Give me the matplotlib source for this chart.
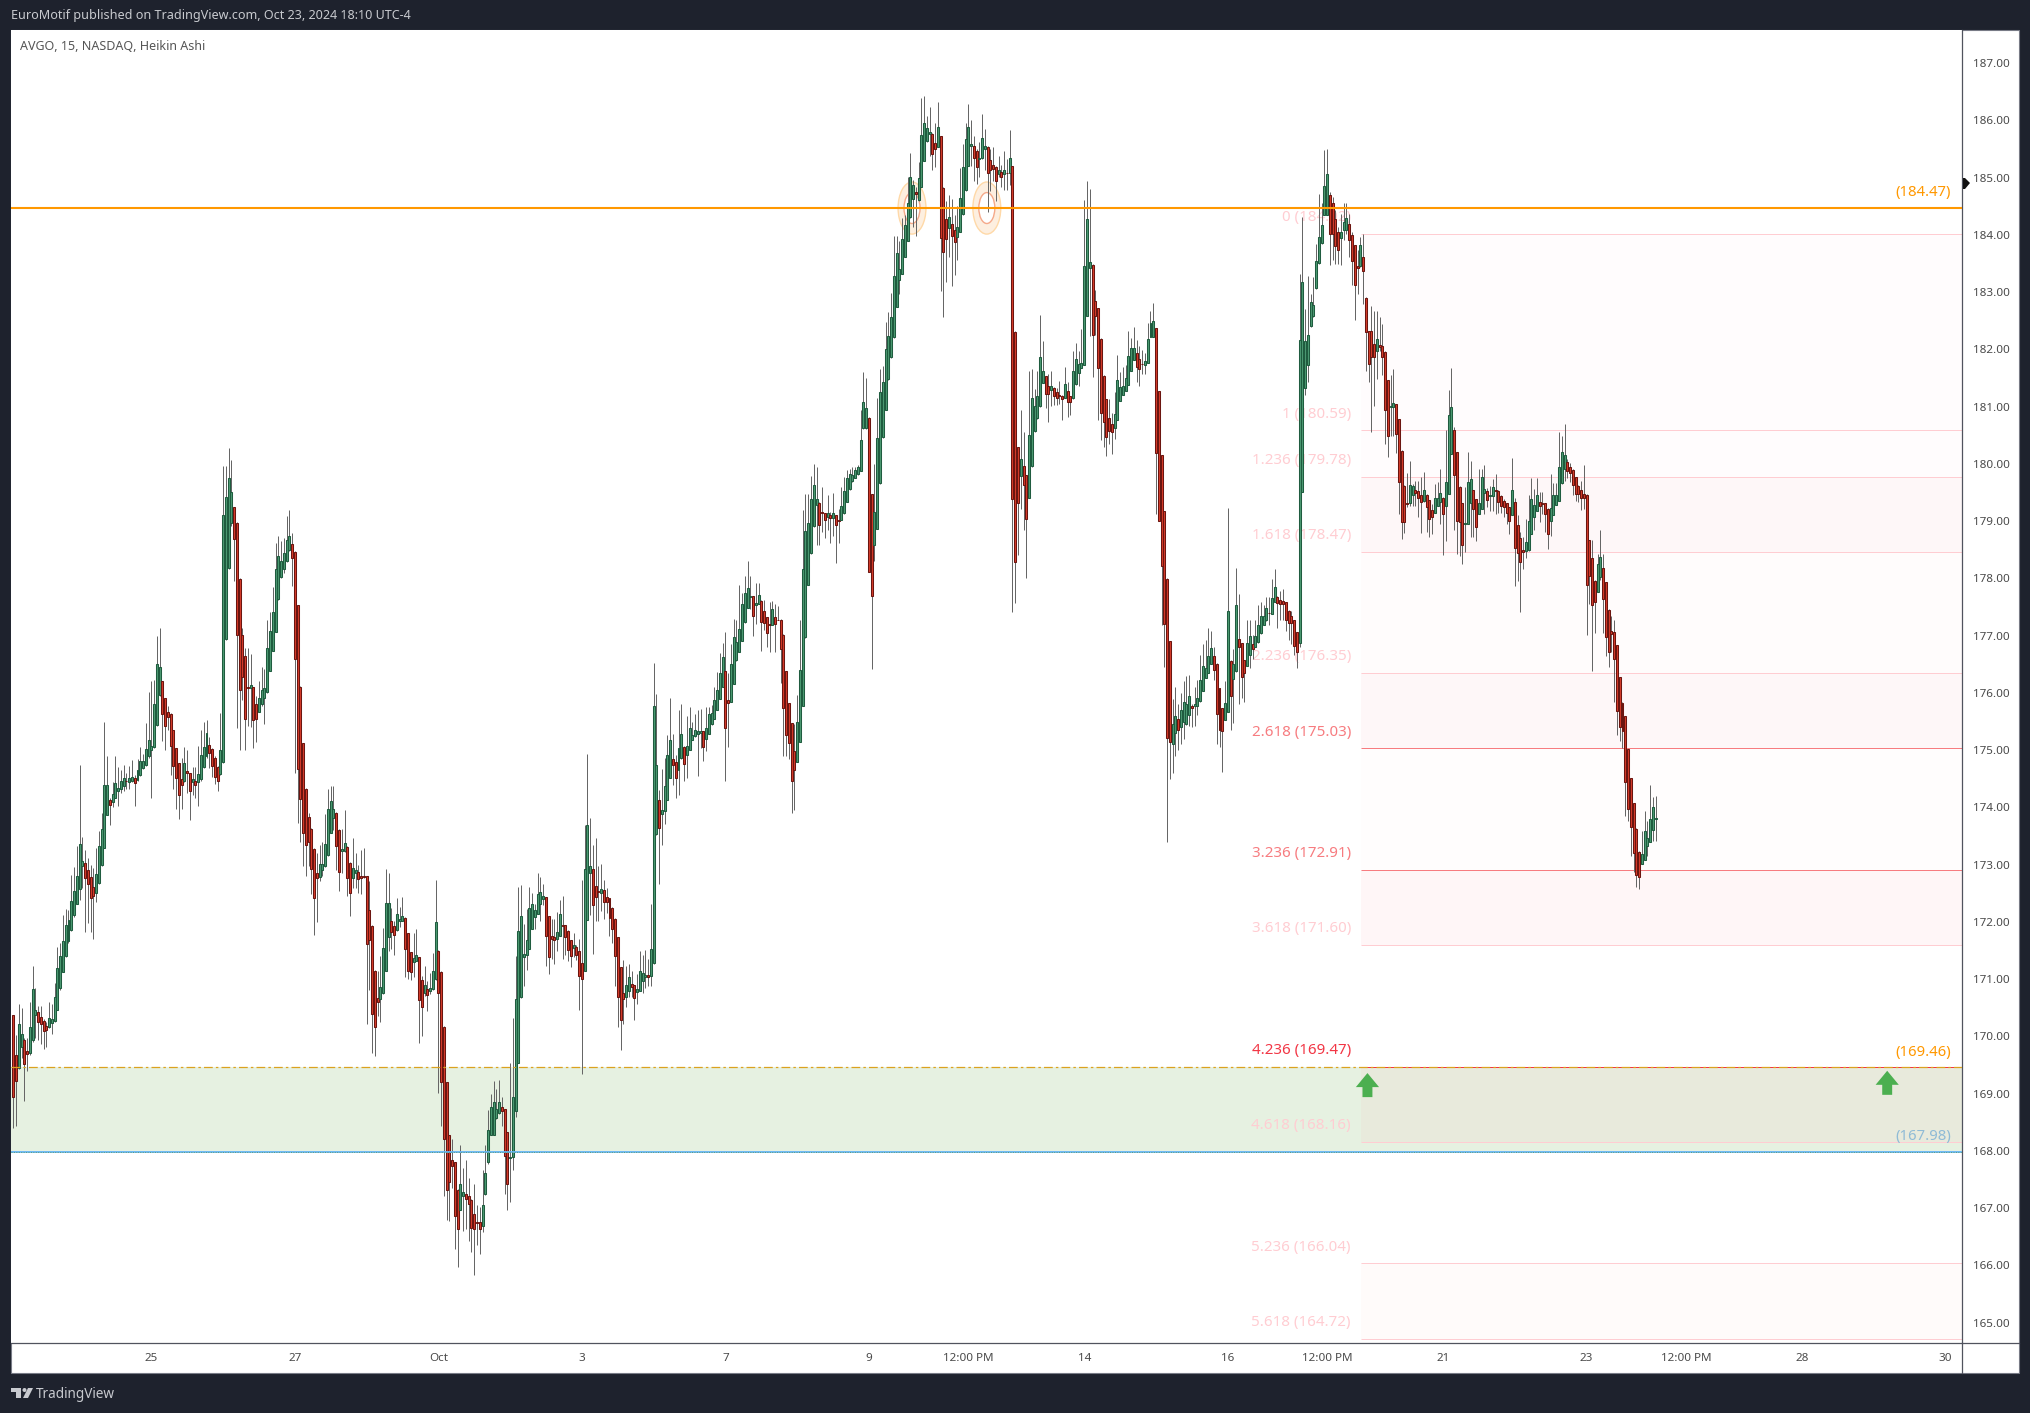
import matplotlib
matplotlib.use('Agg')
import matplotlib.pyplot as plt
from matplotlib.lines import Line2D
from matplotlib.patches import Ellipse, Polygon, Rectangle

W, H = 2030, 1413
FONT = 'Noto Sans'

# Heikin Ashi bars, 15 min
direction = (
    "RRGGRRGGGR" "RRRGGGGGGG" "GGGGGGRRRR" "GGGGGRGGGG" "GRGGRGGGGG" "GGGGRRRRRR"
    "RRGRRGRGGG" "GRRRRGGGGG" "RRRRRRGRRG" "GGGGGGGGGG" "GRRRRRRRRR" "RGGGGGGRRG"
    "GRRGGRRRRR" "RRRGGGGRRG" "GGRRRGGRRG" "RGGGRRRRRR" "RRGGRRRRRR" "GGGGGGGRRR"
    "GGGGGGGGGG" "GGGRRRRGGR" "RRRGRRRGGG" "RRRGRRRRRR" "RRGGRRGGGG" "RGGGRGGGGR"
    "RGGRGGGGGG" "RGGGGGGGRR" "GGGGGGGGRG" "GRRRRGRRRR" "RRRRGGGGGG" "GGRRRGRGRR"
    "GGGGGGGGGG" "RRGGGGGGGG" "GGGGGGGRGG" "GGGRRGRRRG" "RRGGGGGGRR" "GGGRRRRGRG"
    "RGRRRGRRGG" "GGGGRRGRRR" "RGRRGGGGGG" "GRRRRRRRRG" "GGGGGGGRRR" "GGGGRRRRRR"
    "GGRGGGGRGG" "GGGGGRRRRG" "GRGGRRRGGR" "GGGGGRGGRR" "RRRRRRGGGG" "GGGGGGGRRR"
    "RGGGRRRRGR" "RRRRGRRRRG" "GRRRRRGGRR" "RGRRRGGGRG" "GGRRRRGGGR" "RGGGRGGRRR"
    "RRRGRRRRGG" "GGGRRRRGGG" "GGGRRRRRRR" "RRRRGGRRRR" "RRRRRRRRRR" "GGGGGG"
)

body_top = [
    170.38, 169.68, 170.22, 170.05, 169.93, 169.74, 170.16, 170.83, 170.47, 170.42,
    170.34, 170.27, 170.18, 170.32, 170.30, 170.69, 171.19, 171.40, 171.67, 171.94,
    172.03, 172.36, 172.54, 172.81, 173.36, 173.07, 173.03, 172.90, 172.78, 172.61,
    172.84, 173.33, 173.62, 174.40, 174.40, 174.13, 174.23, 174.43, 174.34, 174.46,
    174.51, 174.47, 174.51, 174.54, 174.51, 174.65, 174.81, 174.81, 175.02, 175.17,
    175.07, 175.81, 176.50, 176.45, 176.21, 175.91, 175.67, 175.63, 175.35, 175.04,
    174.78, 174.50, 174.78, 174.63, 174.60, 174.50, 174.47, 174.58, 174.91, 175.05,
    175.30, 175.09, 175.02, 174.86, 174.70, 175.00, 179.10, 179.42, 179.75, 179.51,
    179.24, 178.97, 177.99, 177.01, 176.64, 176.11, 176.13, 176.11, 175.81, 175.92,
    176.06, 176.08, 176.79, 177.09, 177.41, 178.17, 178.40, 178.31, 178.44, 178.68,
    178.74, 178.61, 178.47, 177.53, 176.11, 175.12, 174.33, 173.84, 173.63, 173.28,
    172.85, 173.01, 173.02, 173.37, 173.97, 174.11, 173.98, 173.91, 173.61, 173.27,
    173.38, 173.31, 173.03, 172.94, 172.90, 172.88, 172.81, 172.80, 172.80, 172.20,
    171.93, 171.15, 170.67, 170.87, 171.54, 172.33, 172.33, 172.02, 171.93, 172.14,
    172.06, 172.11, 172.07, 171.80, 171.47, 171.37, 171.42, 171.38, 170.99, 170.90,
    170.83, 170.85, 171.15, 172.00, 171.50, 171.13, 170.17, 169.20, 168.27, 167.84,
    167.80, 167.32, 167.43, 167.28, 167.24, 167.21, 167.15, 166.89, 166.76, 166.75,
    167.05, 167.61, 168.36, 168.77, 168.85, 168.74, 168.85, 168.76, 168.73, 168.33,
    167.90, 168.94, 170.66, 171.85, 172.11, 171.44, 171.68, 172.24, 172.31, 172.21,
    172.49, 172.52, 172.45, 172.43, 172.10, 171.75, 171.74, 171.82, 172.13, 171.94,
    171.94, 171.85, 171.68, 171.59, 171.57, 171.50, 171.28, 172.93, 173.69, 172.97,
    172.92, 172.62, 172.54, 172.57, 172.55, 172.44, 172.41, 172.25, 172.06, 171.73,
    171.21, 170.75, 170.89, 171.03, 170.91, 170.89, 170.82, 171.14, 171.10, 171.08,
    171.07, 171.52, 175.78, 174.75, 174.13, 173.96, 174.37, 174.91, 175.17, 174.85,
    174.80, 175.03, 175.29, 175.06, 175.08, 175.38, 175.27, 175.36, 175.33, 175.34,
    175.33, 175.38, 175.64, 175.65, 175.87, 176.06, 176.34, 176.63, 176.38, 175.87,
    176.50, 176.97, 176.89, 177.12, 177.55, 177.75, 177.84, 177.70, 177.69, 177.57,
    177.71, 177.61, 177.43, 177.32, 177.20, 177.47, 177.32, 177.28, 177.28, 177.02,
    176.38, 175.82, 175.47, 174.98, 175.50, 176.40, 178.17, 178.83, 178.97, 179.39,
    179.64, 179.38, 179.32, 179.16, 179.14, 179.14, 179.10, 179.14, 179.10, 179.02,
    179.27, 179.53, 179.76, 179.83, 179.81, 179.89, 179.95, 180.42, 181.09, 180.98,
    180.81, 179.47, 179.16, 180.45, 181.25, 181.44, 182.00, 182.23, 182.56, 183.29,
    183.68, 183.40, 183.93, 184.17, 184.55, 185.02, 184.87, 184.75, 184.99, 185.75,
    185.96, 185.87, 185.79, 185.77, 185.60, 185.88, 185.72, 184.82, 184.27, 184.31,
    184.20, 184.08, 184.14, 184.65, 185.19, 185.67, 185.89, 185.58, 185.55, 185.46,
    185.34, 185.70, 185.56, 185.54, 185.31, 185.23, 185.19, 185.14, 185.10, 185.13,
    185.09, 185.34, 185.20, 182.31, 180.29, 180.09, 179.96, 179.81, 180.50, 181.16,
    181.02, 181.19, 181.86, 181.63, 181.53, 181.37, 181.36, 181.33, 181.25, 181.21,
    181.19, 181.39, 181.28, 181.18, 181.62, 181.83, 181.75, 181.77, 183.45, 184.28,
    183.52, 183.48, 182.85, 182.72, 182.19, 181.54, 181.13, 180.80, 180.69, 180.88,
    181.46, 181.34, 181.36, 181.50, 181.88, 182.02, 182.02, 181.93, 181.83, 181.75,
    181.79, 182.19, 182.47, 182.50, 182.37, 181.27, 180.15, 179.18, 177.99, 176.90,
    175.45, 175.60, 175.55, 175.70, 175.85, 175.81, 175.94, 175.78, 175.80, 175.92,
    176.22, 176.47, 176.44, 176.65, 176.78, 176.64, 176.51, 176.08, 175.73, 175.83,
    177.44, 176.56, 176.51, 177.53, 176.94, 176.88, 176.57, 176.88, 177.00, 176.85,
    176.99, 177.18, 177.34, 177.35, 177.48, 177.40, 177.65, 177.85, 177.68, 177.63,
    177.60, 177.58, 177.44, 177.34, 177.28, 177.06, 182.17, 183.17, 182.14, 182.26,
    182.83, 182.78, 183.54, 183.97, 184.18, 184.85, 185.06, 184.70, 184.55, 184.28,
    184.05, 184.05, 184.23, 184.30, 184.20, 184.00, 183.82, 183.46, 183.82, 183.61,
    182.90, 182.33, 182.33, 182.10, 182.19, 182.08, 182.06, 181.96, 181.46, 181.02,
    181.07, 181.04, 180.78, 180.23, 179.62, 179.32, 179.63, 179.61, 179.54, 179.53,
    179.46, 179.54, 179.46, 179.37, 179.20, 179.40, 179.41, 179.50, 179.41, 179.69,
    180.86, 181.00, 180.60, 180.20, 179.60, 179.31, 178.96, 179.69, 179.74, 179.54,
    179.38, 179.31, 179.78, 179.56, 179.53, 179.45, 179.60, 179.54, 179.53, 179.44,
    179.36, 179.31, 179.24, 179.55, 179.34, 178.94, 178.70, 178.49, 178.64, 179.01,
    179.38, 179.29, 179.46, 179.33, 179.31, 179.31, 179.22, 179.23, 179.45, 179.45,
    179.94, 180.20, 180.15, 180.04, 179.95, 179.90, 179.78, 179.62, 179.55, 179.48,
    179.46, 178.67, 178.36, 177.96, 178.26, 178.38, 178.19, 177.93, 177.45, 177.09,
    177.06, 176.83, 176.27, 175.83, 175.59, 175.02, 174.51, 174.07, 173.63, 173.23,
    173.18, 173.58, 173.46, 173.79, 174.00, 173.81,
]

body_bottom = [
    168.95, 169.22, 169.44, 169.82, 169.52, 169.69, 169.71, 169.93, 170.38, 170.25,
    170.22, 170.09, 170.12, 170.16, 170.24, 170.27, 170.47, 170.84, 171.13, 171.40,
    171.67, 171.86, 172.12, 172.32, 172.58, 172.97, 172.77, 172.66, 172.42, 172.45,
    172.51, 172.68, 172.99, 173.30, 173.87, 174.04, 174.09, 174.16, 174.29, 174.32,
    174.38, 174.46, 174.45, 174.47, 174.42, 174.48, 174.56, 174.69, 174.74, 174.89,
    175.01, 175.05, 175.44, 175.96, 175.63, 175.42, 175.58, 175.08, 174.72, 174.51,
    174.21, 174.40, 174.46, 174.61, 174.29, 174.44, 174.40, 174.45, 174.49, 174.70,
    174.89, 174.95, 174.72, 174.53, 174.46, 174.58, 174.79, 176.94, 178.18, 178.96,
    178.69, 177.01, 176.05, 176.28, 175.55, 176.09, 176.08, 175.53, 175.55, 175.67,
    175.80, 175.92, 176.01, 176.39, 176.74, 177.07, 177.64, 178.02, 178.17, 178.30,
    178.49, 178.35, 176.60, 174.68, 174.14, 173.56, 173.35, 173.40, 172.92, 172.41,
    172.76, 172.79, 172.90, 172.97, 173.17, 173.56, 173.82, 173.33, 172.87, 173.24,
    173.24, 172.76, 172.50, 172.76, 172.85, 172.75, 172.77, 172.79, 171.61, 171.68,
    170.39, 170.16, 170.61, 170.65, 170.76, 171.15, 171.73, 171.83, 171.78, 171.86,
    172.01, 172.01, 171.52, 171.15, 171.13, 171.30, 171.32, 170.63, 170.52, 170.75,
    170.73, 170.79, 170.82, 171.00, 170.75, 169.21, 168.21, 167.32, 167.45, 167.73,
    166.86, 166.63, 166.97, 167.21, 167.16, 167.08, 166.65, 166.63, 166.74, 166.63,
    166.68, 167.24, 167.80, 168.28, 168.28, 168.57, 168.66, 168.69, 167.92, 167.43,
    167.88, 167.89, 168.70, 169.54, 170.69, 171.39, 171.42, 171.53, 171.88, 172.09,
    172.14, 172.32, 172.40, 171.76, 171.39, 171.71, 171.69, 171.71, 171.76, 171.93,
    171.74, 171.51, 171.41, 171.54, 171.43, 171.06, 171.01, 171.15, 172.04, 172.86,
    172.30, 172.44, 172.52, 172.51, 172.35, 172.35, 172.07, 171.88, 171.41, 170.69,
    170.29, 170.66, 170.69, 170.80, 170.87, 170.68, 170.78, 170.80, 170.96, 171.03,
    171.03, 171.05, 171.28, 173.53, 173.64, 173.89, 173.93, 174.13, 174.52, 174.75,
    174.52, 174.66, 174.86, 174.76, 174.91, 175.00, 175.18, 175.24, 175.29, 175.30,
    175.05, 175.19, 175.29, 175.46, 175.55, 175.71, 175.89, 176.11, 175.38, 175.82,
    175.85, 176.16, 176.57, 176.72, 176.91, 177.24, 177.49, 177.67, 177.35, 177.53,
    177.55, 177.24, 177.22, 177.05, 177.19, 177.19, 177.21, 177.27, 176.76, 175.74,
    175.26, 175.13, 174.47, 174.65, 174.80, 175.15, 175.77, 176.97, 177.89, 178.44,
    178.91, 179.28, 178.93, 179.14, 179.02, 179.07, 179.06, 179.06, 178.93, 179.00,
    179.02, 179.14, 179.34, 179.56, 179.71, 179.76, 179.82, 179.88, 180.62, 180.62,
    178.12, 177.70, 178.59, 178.87, 179.66, 180.47, 180.95, 181.48, 181.86, 182.21,
    182.75, 183.22, 183.32, 183.62, 183.90, 184.31, 184.62, 184.71, 184.61, 184.84,
    185.30, 185.64, 185.76, 185.41, 185.50, 185.54, 183.95, 183.70, 183.93, 184.12,
    183.98, 183.88, 183.97, 184.06, 184.36, 184.78, 185.20, 185.56, 185.34, 185.19,
    185.33, 185.34, 185.51, 185.09, 185.14, 185.16, 184.94, 185.06, 185.02, 185.06,
    185.08, 185.08, 179.39, 178.28, 179.31, 179.79, 179.64, 179.03, 179.41, 179.96,
    180.57, 180.80, 181.01, 181.42, 181.23, 181.23, 181.30, 181.18, 181.16, 181.18,
    181.14, 181.16, 181.09, 181.09, 181.15, 181.39, 181.59, 181.68, 181.72, 182.59,
    183.43, 182.25, 182.58, 181.67, 180.89, 180.73, 180.47, 180.58, 180.55, 180.62,
    180.76, 181.10, 181.21, 181.28, 181.38, 181.63, 181.81, 181.70, 181.65, 181.74,
    181.73, 181.77, 182.22, 182.22, 180.19, 179.01, 178.21, 177.20, 175.22, 175.15,
    175.10, 175.30, 175.35, 175.40, 175.50, 175.45, 175.62, 175.74, 175.77, 175.78,
    175.86, 176.03, 176.26, 176.35, 176.51, 176.40, 175.63, 175.35, 175.33, 175.53,
    175.67, 175.94, 176.24, 176.38, 176.81, 176.27, 176.35, 176.47, 176.66, 176.77,
    176.80, 176.89, 177.04, 177.18, 177.27, 177.39, 177.38, 177.59, 177.57, 177.56,
    177.56, 177.28, 177.23, 177.23, 176.82, 176.71, 176.88, 179.51, 181.33, 181.73,
    182.41, 182.58, 183.08, 183.51, 183.86, 184.35, 184.35, 184.02, 184.02, 183.81,
    183.74, 183.95, 184.08, 184.08, 183.92, 183.54, 183.12, 183.43, 183.45, 183.37,
    182.31, 181.75, 181.86, 181.86, 181.98, 182.05, 181.87, 180.94, 180.49, 180.99,
    181.00, 180.52, 179.68, 178.99, 178.99, 179.30, 179.31, 179.46, 179.50, 179.40,
    179.34, 179.35, 179.25, 179.04, 179.07, 179.14, 179.26, 179.33, 179.13, 179.27,
    179.48, 180.18, 179.81, 179.00, 178.99, 178.59, 178.95, 178.95, 179.32, 179.21,
    178.90, 179.13, 179.21, 179.49, 179.37, 179.44, 179.44, 179.53, 179.34, 179.26,
    179.25, 179.14, 179.00, 179.10, 178.53, 178.45, 178.29, 178.47, 178.48, 178.49,
    178.78, 179.07, 179.18, 179.27, 179.30, 179.13, 178.78, 179.01, 179.11, 179.28,
    179.35, 179.66, 179.91, 179.88, 179.84, 179.63, 179.48, 179.47, 179.41, 179.41,
    177.88, 178.04, 177.54, 177.58, 177.77, 178.02, 177.64, 176.98, 176.72, 177.03,
    176.60, 175.69, 175.41, 175.34, 174.45, 173.98, 173.65, 173.20, 172.82, 172.79,
    173.02, 173.09, 173.32, 173.40, 173.60, 173.80,
]

highs = [
    170.38, 170.02, 170.57, 170.50, 169.98, 169.98, 170.61, 171.23, 170.85, 170.54,
    170.54, 170.30, 170.26, 170.60, 170.57, 170.93, 171.56, 171.64, 172.12, 172.23,
    172.20, 172.82, 172.96, 173.33, 174.74, 173.48, 173.26, 173.12, 172.99, 172.95,
    173.30, 173.58, 173.90, 175.50, 174.89, 174.17, 174.45, 174.89, 174.71, 174.65,
    174.74, 174.61, 174.73, 174.82, 174.57, 174.85, 175.06, 174.94, 175.47, 176.01,
    176.21, 176.23, 176.99, 177.13, 176.21, 175.91, 175.78, 175.65, 175.36, 175.04,
    174.78, 174.86, 175.06, 175.00, 174.61, 174.71, 174.71, 175.08, 175.36, 175.49,
    175.53, 175.23, 175.04, 174.89, 174.73, 175.65, 179.97, 179.97, 180.27, 180.07,
    179.25, 178.98, 178.00, 177.14, 176.78, 176.78, 176.68, 176.11, 175.94, 176.20,
    176.46, 176.42, 177.28, 177.42, 177.85, 178.62, 178.74, 178.66, 178.71, 179.09,
    179.19, 178.79, 178.48, 177.54, 176.12, 175.13, 174.34, 173.90, 173.64, 173.29,
    173.21, 173.34, 173.40, 173.88, 174.33, 174.37, 174.37, 173.92, 173.62, 173.63,
    173.96, 173.32, 173.04, 173.46, 173.21, 172.99, 173.25, 173.30, 172.80, 172.72,
    171.94, 171.16, 171.14, 171.40, 171.89, 172.92, 172.86, 172.24, 172.02, 172.42,
    172.26, 172.43, 172.08, 171.81, 171.48, 171.80, 171.87, 171.39, 171.05, 171.23,
    170.96, 171.11, 171.45, 172.74, 171.51, 171.14, 170.18, 169.20, 168.28, 168.21,
    167.81, 167.33, 168.10, 167.71, 167.84, 167.53, 167.16, 167.43, 167.05, 167.02,
    167.67, 168.10, 168.71, 168.99, 169.22, 169.08, 169.24, 168.94, 168.74, 168.33,
    169.53, 170.32, 171.40, 172.61, 172.64, 171.96, 172.22, 172.61, 172.50, 172.32,
    172.85, 172.78, 172.66, 172.43, 172.10, 172.05, 172.05, 172.17, 172.39, 172.46,
    171.94, 171.86, 171.68, 171.80, 171.60, 171.71, 172.74, 173.69, 174.94, 173.82,
    173.34, 173.46, 172.98, 173.02, 172.74, 172.59, 172.42, 172.26, 172.07, 171.74,
    171.21, 171.33, 171.23, 171.26, 171.14, 170.89, 171.09, 171.49, 171.43, 171.51,
    171.35, 172.32, 176.53, 175.99, 174.30, 174.67, 174.87, 175.27, 175.92, 175.29,
    174.92, 175.70, 175.80, 175.07, 175.59, 175.75, 175.50, 175.63, 175.71, 175.72,
    175.33, 175.75, 175.75, 175.79, 176.11, 176.36, 176.69, 176.87, 177.07, 176.35,
    176.85, 177.30, 177.28, 177.89, 177.75, 178.04, 178.31, 178.04, 177.70, 177.92,
    177.92, 177.63, 177.62, 177.33, 177.59, 177.61, 177.55, 177.52, 177.29, 177.03,
    176.39, 175.83, 175.48, 175.45, 175.97, 177.28, 179.20, 179.48, 179.48, 179.79,
    180.00, 179.94, 179.33, 179.59, 179.15, 179.46, 179.16, 179.49, 179.11, 179.21,
    179.59, 179.77, 179.90, 179.91, 179.94, 179.94, 179.98, 180.94, 181.60, 181.50,
    180.82, 179.48, 180.00, 181.15, 181.65, 181.71, 182.48, 182.66, 182.99, 183.98,
    183.98, 183.89, 184.29, 184.35, 185.01, 185.43, 184.96, 184.84, 185.27, 186.39,
    186.42, 186.08, 186.23, 185.78, 185.95, 186.32, 185.73, 184.83, 184.60, 184.70,
    184.62, 184.35, 184.50, 185.17, 185.58, 185.95, 186.29, 186.01, 185.73, 185.50,
    185.62, 186.12, 185.85, 185.55, 185.50, 185.53, 185.20, 185.38, 185.23, 185.46,
    185.32, 185.83, 185.21, 182.32, 180.29, 180.95, 180.55, 179.81, 181.63, 181.65,
    181.31, 181.63, 182.60, 182.15, 181.54, 181.57, 181.63, 181.34, 181.33, 181.45,
    181.20, 181.69, 181.43, 181.18, 181.97, 182.11, 181.98, 182.35, 184.61, 184.95,
    184.81, 183.49, 183.03, 182.72, 182.20, 181.55, 181.13, 181.14, 180.89, 181.25,
    181.90, 181.60, 181.69, 181.72, 182.33, 182.20, 182.39, 182.17, 182.06, 181.99,
    181.93, 182.47, 182.67, 182.82, 182.37, 181.27, 180.15, 179.18, 178.00, 176.90,
    175.90, 176.10, 175.80, 176.00, 176.20, 176.29, 176.32, 175.81, 176.10, 176.22,
    176.67, 176.86, 176.92, 177.14, 177.09, 176.80, 176.52, 176.08, 175.73, 176.20,
    179.23, 176.57, 176.76, 178.19, 177.72, 176.88, 176.57, 177.27, 177.27, 177.02,
    177.27, 177.54, 177.59, 177.53, 177.68, 177.68, 177.99, 178.16, 177.70, 177.78,
    177.82, 177.58, 177.45, 177.44, 177.28, 177.07, 183.32, 184.32, 182.71, 183.29,
    182.97, 183.27, 183.85, 184.72, 184.55, 185.48, 185.50, 184.75, 184.66, 184.43,
    184.14, 184.37, 184.55, 184.55, 184.37, 184.05, 183.82, 183.73, 183.96, 184.02,
    182.91, 182.33, 182.76, 182.67, 182.68, 182.57, 182.45, 181.97, 181.46, 181.56,
    181.65, 181.04, 180.78, 180.24, 179.63, 179.84, 180.05, 179.65, 179.70, 179.70,
    179.78, 179.86, 179.47, 179.37, 179.30, 179.65, 179.68, 179.92, 179.42, 180.60,
    181.30, 181.68, 180.65, 180.20, 179.61, 179.31, 179.59, 180.20, 180.06, 179.55,
    179.38, 179.92, 179.92, 179.99, 179.58, 179.61, 179.73, 179.83, 179.55, 179.45,
    179.38, 179.31, 179.24, 180.11, 179.41, 179.10, 178.81, 178.73, 179.03, 179.46,
    179.76, 179.57, 179.76, 179.51, 179.51, 179.31, 179.23, 179.82, 179.67, 179.66,
    180.55, 180.48, 180.69, 180.09, 180.02, 179.91, 179.78, 179.63, 179.70, 179.99,
    179.47, 178.68, 178.67, 177.97, 178.43, 178.85, 178.43, 177.93, 177.46, 177.34,
    177.27, 176.83, 176.28, 175.84, 175.59, 175.02, 174.51, 174.08, 173.64, 173.24,
    173.58, 173.94, 173.77, 174.39, 174.19, 174.20,
]

lows = [
    168.40, 168.44, 169.43, 169.63, 168.87, 169.40, 169.67, 169.90, 169.98, 169.94,
    169.86, 169.78, 169.82, 170.14, 170.04, 170.26, 170.46, 170.81, 171.13, 171.39,
    171.64, 171.84, 172.08, 172.32, 172.39, 172.59, 171.82, 171.99, 171.82, 171.70,
    172.34, 172.67, 172.97, 173.30, 173.86, 173.70, 174.00, 174.16, 174.02, 174.25,
    174.29, 174.33, 174.32, 174.45, 174.02, 174.47, 174.55, 174.67, 174.73, 174.87,
    174.17, 175.04, 175.42, 175.95, 175.16, 175.00, 175.36, 174.57, 174.32, 173.98,
    173.79, 173.97, 174.44, 174.25, 173.78, 174.21, 174.17, 174.03, 174.47, 174.69,
    174.87, 174.69, 174.53, 174.41, 174.29, 174.57, 174.78, 176.93, 178.16, 178.92,
    177.95, 175.38, 175.00, 175.87, 175.00, 175.42, 175.41, 175.03, 175.14, 175.66,
    175.78, 175.45, 176.00, 176.38, 176.73, 177.06, 177.63, 178.01, 178.09, 178.29,
    178.48, 177.87, 174.60, 173.72, 173.40, 172.97, 172.80, 172.98, 172.49, 171.78,
    172.00, 172.72, 172.80, 172.96, 173.16, 173.55, 173.60, 172.90, 172.54, 172.86,
    173.23, 172.45, 172.11, 172.59, 172.59, 172.50, 172.49, 172.77, 170.22, 170.81,
    169.71, 169.66, 170.35, 170.26, 170.74, 171.14, 171.49, 171.52, 171.43, 171.84,
    171.91, 172.01, 171.03, 171.01, 170.99, 171.03, 171.32, 169.89, 170.01, 170.70,
    170.44, 170.74, 170.81, 170.99, 169.02, 168.44, 167.22, 166.80, 166.78, 167.36,
    166.29, 165.97, 166.96, 166.61, 166.64, 166.43, 166.23, 165.83, 166.35, 166.20,
    166.59, 167.23, 167.78, 168.28, 168.28, 168.56, 168.65, 168.44, 167.25, 166.97,
    167.11, 167.66, 168.60, 169.53, 170.68, 170.88, 171.16, 171.53, 171.88, 171.88,
    172.14, 172.02, 172.29, 171.23, 171.09, 171.35, 171.26, 171.49, 171.75, 171.35,
    171.43, 171.32, 171.21, 171.39, 171.33, 170.46, 169.34, 171.14, 172.03, 172.12,
    171.44, 172.01, 172.01, 172.19, 172.05, 172.15, 171.75, 171.63, 170.88, 170.16,
    169.76, 170.22, 170.52, 170.69, 170.69, 170.29, 170.57, 170.79, 170.75, 170.85,
    170.88, 170.88, 171.27, 173.52, 172.66, 173.34, 173.71, 174.13, 174.52, 174.39,
    174.17, 174.21, 174.84, 174.47, 174.51, 175.00, 175.18, 175.23, 174.55, 175.03,
    174.81, 174.99, 175.28, 175.44, 175.54, 175.70, 175.89, 176.11, 174.47, 175.06,
    175.84, 176.16, 176.56, 176.72, 176.91, 177.23, 177.48, 177.47, 177.00, 177.20,
    177.55, 176.74, 177.10, 176.81, 176.72, 177.19, 176.72, 177.27, 176.17, 174.90,
    174.90, 174.85, 173.91, 173.96, 174.80, 175.14, 175.77, 176.96, 177.89, 178.43,
    178.90, 178.58, 178.58, 178.81, 178.70, 178.84, 178.62, 178.74, 178.27, 178.62,
    179.02, 179.13, 179.34, 179.55, 179.69, 179.75, 179.81, 179.87, 180.61, 180.61,
    178.11, 176.41, 178.31, 178.87, 179.65, 180.46, 180.94, 181.47, 181.85, 182.20,
    182.74, 182.96, 183.31, 183.61, 183.89, 184.30, 184.14, 183.99, 184.60, 184.84,
    185.29, 185.62, 185.38, 185.13, 185.19, 185.54, 183.02, 182.56, 183.17, 183.61,
    183.11, 183.30, 183.56, 184.06, 184.35, 184.77, 185.20, 185.20, 184.94, 184.89,
    185.01, 185.33, 185.14, 184.40, 184.76, 184.95, 184.59, 185.02, 184.83, 184.78,
    184.78, 184.87, 177.42, 177.57, 178.41, 179.21, 178.85, 178.01, 179.40, 179.95,
    180.56, 180.79, 181.00, 181.42, 180.98, 180.74, 181.01, 181.03, 181.03, 181.04,
    180.76, 181.15, 180.82, 180.85, 181.14, 181.38, 181.37, 181.67, 181.72, 182.58,
    182.24, 181.52, 182.26, 180.77, 180.41, 180.29, 180.14, 180.35, 180.18, 180.43,
    180.76, 181.10, 181.21, 181.28, 181.38, 181.63, 181.81, 181.43, 181.37, 181.57,
    181.57, 181.76, 182.22, 182.22, 179.13, 179.01, 177.18, 176.45, 173.40, 174.50,
    174.60, 174.90, 175.00, 175.10, 175.20, 175.44, 175.43, 175.41, 175.43, 175.62,
    175.84, 176.03, 176.26, 176.35, 176.51, 176.22, 175.11, 175.06, 174.62, 175.52,
    175.67, 175.35, 175.47, 176.37, 175.81, 175.91, 175.84, 176.47, 176.43, 176.60,
    176.80, 176.88, 177.03, 177.18, 177.26, 177.18, 177.38, 177.59, 177.13, 177.27,
    177.28, 177.08, 176.92, 176.86, 176.67, 176.43, 176.80, 179.51, 181.20, 181.43,
    182.39, 182.57, 183.06, 183.50, 183.85, 184.34, 184.34, 183.47, 183.56, 183.50,
    183.50, 183.47, 183.91, 184.02, 183.61, 183.12, 182.51, 182.97, 183.44, 182.80,
    181.62, 181.43, 180.56, 181.01, 181.49, 181.97, 181.56, 180.35, 180.12, 180.48,
    180.48, 180.19, 179.13, 178.69, 178.80, 179.24, 179.27, 179.27, 179.27, 179.08,
    178.80, 179.34, 178.81, 178.73, 178.77, 179.14, 179.26, 178.95, 178.41, 178.66,
    179.48, 180.17, 178.84, 178.42, 178.39, 178.25, 178.46, 178.95, 178.73, 178.73,
    178.65, 179.12, 179.21, 179.12, 179.24, 179.18, 179.18, 179.13, 179.14, 179.14,
    179.07, 178.95, 178.77, 179.10, 177.87, 177.95, 177.42, 178.17, 178.35, 178.48,
    178.77, 178.84, 179.17, 178.99, 179.13, 178.81, 178.51, 178.74, 179.10, 179.28,
    179.35, 179.65, 179.70, 179.76, 179.69, 179.45, 179.35, 179.34, 179.19, 179.22,
    177.01, 177.56, 176.39, 177.04, 177.77, 177.97, 177.04, 176.65, 176.46, 176.72,
    175.84, 175.26, 175.16, 175.03, 173.85, 173.77, 173.16, 172.88, 172.61, 172.57,
    173.02, 173.08, 173.15, 173.39, 173.42, 173.42,
]

assert len(direction) == len(body_top) == len(body_bottom) == len(highs) == len(lows)

# time axis labels, by bar number
time_bars = [50, 102, 154, 206, 258, 310, 346, 388, 440, 476, 518, 570, 606, 648, 700]
time_labels = ['25', '27', 'Oct', '3', '7', '9', '12:00 PM', '14', '16', '12:00 PM',
               '21', '23', '12:00 PM', '28', '30']
price_ticks = list(range(165, 188))

# fib extension drawn from bar 488
fib_ratio = ['0', '1', '1.236', '1.618', '2.236', '2.618', '3.236', '3.618', '4.236',
             '4.618', '5.236', '5.618']
fib_price = [184.02, 180.59, 179.78, 178.47, 176.35, 175.03, 172.91, 171.60, 169.47,
             168.16, 166.04, 164.72]
fib_color = ['#FFCDD2', '#FFCDD2', '#FFCDD2', '#FFCDD2', '#FFCDD2', '#F77C80', '#F77C80',
             '#FFCDD2', '#F23645', '#FFCDD2', '#FFCDD2', '#FFCDD2']
# fill below each level, down to the next one
fib_fill = ['#FFFCFD', '#FFFCFD', '#FEF7F8', '#FFFCFC', '#FEF7F8', '#FFFDFD', '#FFF6F7',
            '#FFFFFF', '#E8EADC', '#FFFFFF', '#FFFBFA']
fib_start = 488.4

zone_top = 169.46
zone_bottom = 167.98
res_level = 184.47
circle_bars = [325.6, 352.7]
arrow_bars = [490.6, 678.9]
arrow_tops = [169.36, 169.40]


def px(x, y):
    return x / W, 1 - y / H


fig = plt.figure(figsize=(W / 100, H / 100), dpi=100, facecolor='#1E222D')

# white chart panel with its thin border
fig.add_artist(Rectangle(px(11, 1373), 2008 / W, 1343 / H, transform=fig.transFigure,
                         facecolor='white', edgecolor='#787B86', linewidth=0.8, zorder=-1))

ax = fig.add_axes([11 / W, 1 - 1343 / H, (1962 - 11) / W, (1343 - 30) / H], facecolor='white')
ax.set_ylim(164.645, 187.58)
ax.set_xlim(-0.83, 706.0)

ax.axhspan(zone_bottom, zone_top, color='#E6F1E1', lw=0, zorder=1)
for i in range(len(fib_fill)):
    if fib_fill[i] == '#FFFFFF':
        continue
    ax.fill_between([fib_start, 706.0], fib_price[i + 1], fib_price[i], color=fib_fill[i],
                    lw=0, zorder=1.2)
ax.hlines(fib_price, fib_start, 706.0, colors=fib_color, linewidth=0.72, zorder=1.4)
for i in range(len(fib_ratio)):
    ax.annotate(f'{fib_ratio[i]} ({fib_price[i]:.2f})', (fib_start, fib_price[i]),
                xytext=(-7.5, 11.5), textcoords='offset points', ha='right', va='center',
                color=fib_color[i], fontsize=10.9, family=FONT, zorder=1.5)

# the two touch circles on the resistance line
for c in circle_bars:
    ax.add_patch(Ellipse((c, res_level), 10.1, 0.91, facecolor='#FDEFE0', edgecolor='#FFD9A8',
                         linewidth=1.0, zorder=1.6))
    ax.add_patch(Ellipse((c, res_level), 5.8, 0.54, facecolor='#FFFFFF', edgecolor='#F5A98A',
                         linewidth=1.0, zorder=1.7))

# candles
x = list(range(len(direction)))
face = ['#4C9A72' if d == 'G' else '#D63C2B' for d in direction]
edge = ['#1F5C3F' if d == 'G' else '#6B1510' for d in direction]
ax.vlines(x, lows, highs, colors='#666666', linewidth=0.72, zorder=2)
ax.bar(x, [t - b for t, b in zip(body_top, body_bottom)], bottom=body_bottom, width=0.72,
       color=face, edgecolor=edge, linewidth=0.75, zorder=3)

# levels
ax.axhline(res_level, color='#FF9800', linewidth=1.5, zorder=4)
ax.axhline(zone_top, color='#DBA21F', linewidth=0.9, linestyle=(0, (7, 2.5, 2, 2.5)), zorder=4)
ax.axhline(zone_bottom, color='#64B5F6', linewidth=1.3, zorder=4)
ax.axhline(zone_bottom, color='#5E9C76', linewidth=0.7, linestyle=(0, (1, 1.5)), zorder=4.1)
ax.annotate(f'({res_level:.2f})', (1, res_level), xycoords=('axes fraction', 'data'),
            xytext=(-8, 11), textcoords='offset points', ha='right', va='center',
            color='#FF9800', fontsize=10.7, family=FONT, zorder=5)
ax.annotate(f'({zone_top:.2f})', (1, zone_top), xycoords=('axes fraction', 'data'),
            xytext=(-8, 11), textcoords='offset points', ha='right', va='center',
            color='#FF9800', fontsize=10.7, family=FONT, zorder=5)
ax.annotate(f'({zone_bottom:.2f})', (1, zone_bottom), xycoords=('axes fraction', 'data'),
            xytext=(-8, 11), textcoords='offset points', ha='right', va='center',
            color='#8FBBD6', fontsize=10.7, family=FONT, zorder=5)

# up arrows
for b, t in zip(arrow_bars, arrow_tops):
    ax.fill([b, b + 4.2, b + 1.8, b + 1.8, b - 1.8, b - 1.8, b - 4.2],
            [t, t - 0.245, t - 0.245, t - 0.42, t - 0.42, t - 0.245, t - 0.245],
            color='#4CAF50', lw=0, zorder=5)

ax.yaxis.tick_right()
ax.set_yticks(price_ticks)
ax.set_yticklabels([f'{p:.2f}' for p in price_ticks], family=FONT, fontsize=8.4, color='#4A4A4A')
ax.set_xticks(time_bars)
ax.set_xticklabels(time_labels, family=FONT, fontsize=8.4, color='#4A4A4A')
ax.tick_params(axis='both', length=0)
ax.tick_params(axis='y', pad=8.0)
ax.tick_params(axis='x', pad=7.0)
for s in ['left', 'top']:
    ax.spines[s].set_visible(False)
for s in ['right', 'bottom']:
    ax.spines[s].set_color('#50535E')
    ax.spines[s].set_linewidth(0.9)

# axis lines run on through the corner
fig.add_artist(Line2D([1962 / W, 1962 / W], [1 - 1343 / H, 1 - 1373 / H], color='#50535E', linewidth=0.9))
fig.add_artist(Line2D([1962 / W, 2019 / W], [1 - 1343 / H, 1 - 1343 / H], color='#50535E', linewidth=0.9))

# last price marker
fig.add_artist(Polygon([px(1963, 178), px(1965, 178), px(1970, 183), px(1965, 189), px(1963, 189)],
                       transform=fig.transFigure, facecolor='#111111', edgecolor='none'))

fig.text(*px(11, 16), 'EuroMotif published on TradingView.com, Oct 23, 2024 18:10 UTC-4',
         color='#C8CACF', fontsize=9.05, family=FONT, va='center', ha='left')
fig.text(*px(20, 46), 'AVGO, 15, NASDAQ, Heikin Ashi', color='#555555', fontsize=9.0,
         family=FONT, va='center', ha='left')
fig.text(*px(36, 1394), 'TradingView', color='#C8CACF', fontsize=9.75, family=FONT,
         va='center', ha='left')

# TradingView logo
fig.add_artist(Polygon([px(11, 1388), px(21, 1388), px(21, 1398), px(16, 1398), px(16, 1392), px(11, 1392)],
                       transform=fig.transFigure, facecolor='#C8CACF', edgecolor='none'))
fig.add_artist(Ellipse(px(24.5, 1390), 4 / W, 4 / H, transform=fig.transFigure,
                       facecolor='#C8CACF', edgecolor='none'))
fig.add_artist(Polygon([px(28, 1388), px(33, 1388), px(28, 1398), px(23, 1398)],
                       transform=fig.transFigure, facecolor='#C8CACF', edgecolor='none'))

fig.savefig('out.png', dpi=100, facecolor=fig.get_facecolor())
